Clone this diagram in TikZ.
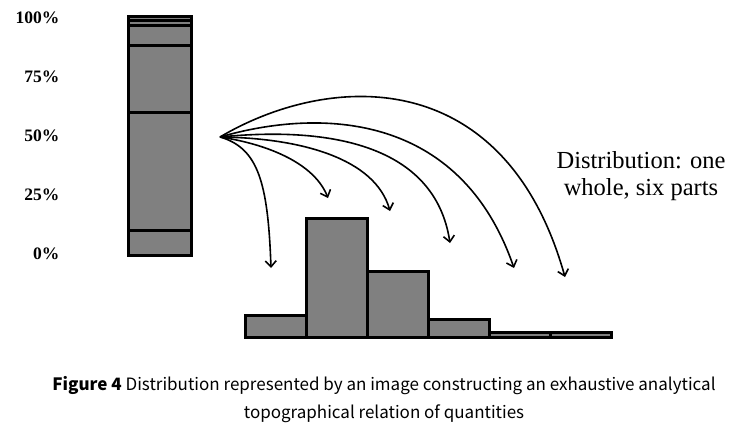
\documentclass[tikz,border=0pt]{standalone}
\usepackage{fontspec}
\setmainfont{Liberation Serif}
\newfontfamily\capfont{Noto Sans CJK SC}
\usetikzlibrary{arrows.meta}

\begin{document}
\begin{tikzpicture}[x=1pt,y=-1pt,
  block/.style={draw=black,fill=gray,line width=3pt},
  flow/.style={line width=1.6pt,-{Straight Barb[length=6pt,width=11pt]}},
  pct/.style={anchor=base east,font=\fontsize{17.5}{17.5}\selectfont\bfseries}]
\useasboundingbox (0,0) rectangle (742,440);

% stacked column
\foreach \top/\bot in {230/255,112/230,45/112,25.5/45,20.7/25.5,16/20.7}
  \draw[block] (128,\top) rectangle (191,\bot);

\foreach \y/\p in {23/100,82/75,141/50,200/25,259/0}
  \node[pct] (p\p) at (63,\y) {\p\%};

% histogram
\foreach \i/\h in {0/315,1/218,2/271,3/319,4/332,5/332}
  \draw[block] (245+61*\i,\h) rectangle (245+61*\i+61,337.5);

% arrows
\coordinate (src) at (220,137);
\foreach \n/\ax/\ay/\bx/\by/\ex/\ey in {
   1/258/148/268/182/271/268,
   2/272/145/315/165/328/198,
   3/300/138/375/158/390/211,
   4/330/126/435/145/450/243,
   5/320/108/460/112/514/268,
   6/330/72/505/64/565/277}
{
  \coordinate (t\n) at (\ex,\ey);
  \draw[flow] (src) .. controls (\ax,\ay) and (\bx,\by) .. (t\n);
}

\node[align=center,anchor=base,font=\fontsize{24.5}{27}\selectfont] (dist) at (641,195)
  {Distribution: one\\whole, six parts};

\node[align=center,anchor=base,font=\capfont\fontsize{17}{28}\selectfont] (cap) at (384,418)
  {\textbf{Figure 4} Distribution represented by an image constructing an exhaustive analytical\\
   topographical relation of quantities};
\end{tikzpicture}
\end{document}
